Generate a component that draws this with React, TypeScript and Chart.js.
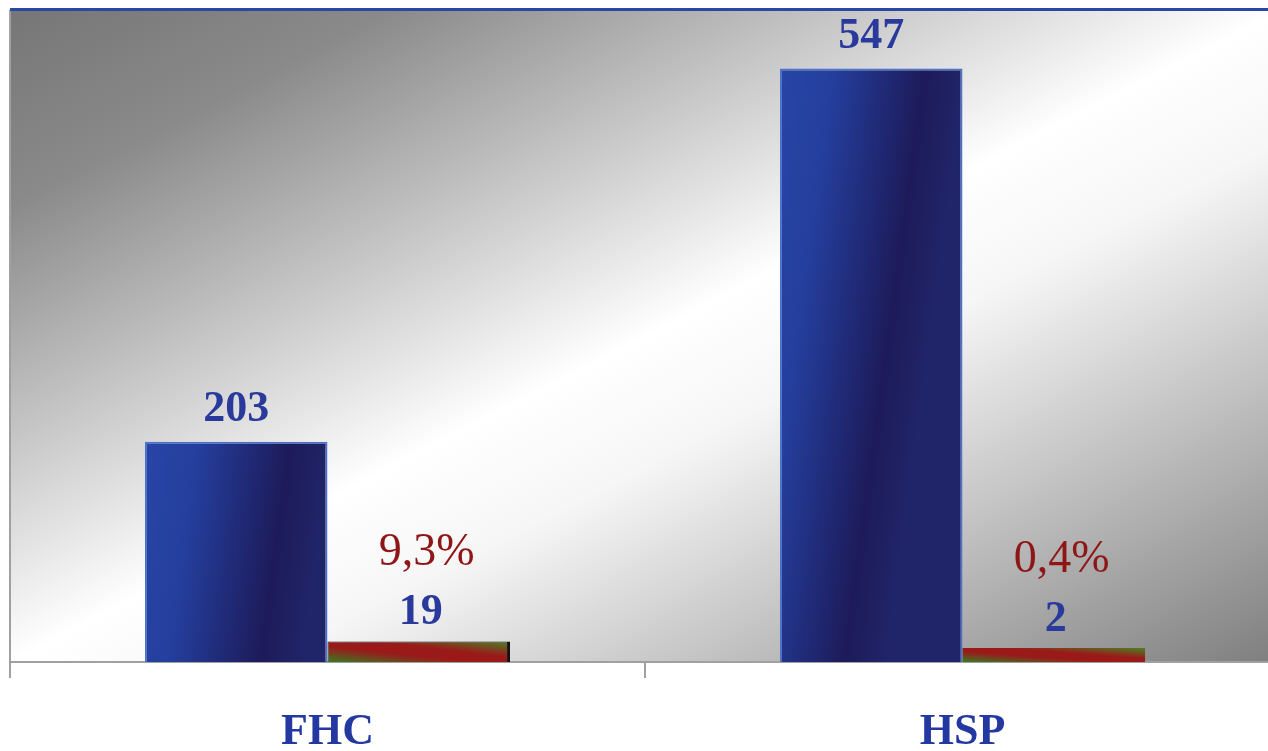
import React, { useEffect, useRef } from 'react';
import { Chart, registerables } from 'chart.js';

Chart.register(...registerables);

const categories = ['FHC', 'HSP'];
const totalValues = [203, 547];
const subsetValues = [19, 2];
const subsetPercentLabels = ['9,3%', '0,4%'];
const yMax = 600;

const SERIF = "'Liberation Serif', 'Times New Roman', serif";

const backgroundPlugin = {
  id: 'bgGradient',
  beforeDraw(chart: any) {
    const { ctx, chartArea } = chart;
    const { left, top, right, bottom } = chartArea;
    ctx.save();
    ctx.fillStyle = '#ffffff';
    ctx.fillRect(0, 0, chart.width, chart.height);
    ctx.translate(left, top);
    ctx.scale(right - left, bottom - top);
    const g = ctx.createLinearGradient(0, 0, 1, 1);
    g.addColorStop(0, '#767676');
    g.addColorStop(0.15, '#8a8a8a');
    g.addColorStop(0.5, '#ffffff');
    g.addColorStop(0.6, '#f6f6f6');
    g.addColorStop(1, '#7e7e7e');
    ctx.fillStyle = g;
    ctx.fillRect(0, 0, 1, 1);
    ctx.restore();
  },
  afterDraw(chart: any) {
    const { ctx, chartArea } = chart;
    ctx.save();
    ctx.fillStyle = '#2c46a6';
    ctx.fillRect(chartArea.left, chartArea.top - 3, chartArea.right - chartArea.left, 3);
    ctx.restore();
  },
};

const barGradientPlugin = {
  id: 'barGradient',
  beforeDatasetsDraw(chart: any) {
    const ctx = chart.ctx;
    chart.data.datasets.forEach((ds: any, di: number) => {
      const meta = chart.getDatasetMeta(di);
      meta.data.forEach((el: any) => {
        const { x, y, base, width } = el.getProps(['x', 'y', 'base', 'width'], true);
        const left = x - width / 2;
        const right = x + width / 2;
        const top = Math.min(y, base);
        const bottom = Math.max(y, base);
        const w = right - left;
        const h = bottom - top;
        let g: CanvasGradient;
        if (di === 0) {
          g = ctx.createLinearGradient(left, top, right, top + 25);
          g.addColorStop(0, '#2846a6');
          g.addColorStop(0.3, '#243e9c');
          g.addColorStop(0.78, '#1d1b5a');
          g.addColorStop(1, '#202468');
        } else {
          const s = (2 * w * h) / (w * w + h * h);
          g = ctx.createLinearGradient(left, bottom, left + h * s, bottom - w * s);
          g.addColorStop(0, '#3a7a22');
          g.addColorStop(0.38, '#9a1a1a');
          g.addColorStop(0.62, '#9a1a1a');
          g.addColorStop(1, '#4a8225');
        }
        el.options.backgroundColor = g;
      });
    });
  },
};

const labelsPlugin = {
  id: 'valueLabels',
  afterDatasetsDraw(chart: any) {
    const ctx = chart.ctx;
    ctx.save();
    ctx.textAlign = 'center';
    ctx.textBaseline = 'alphabetic';
    const m0 = chart.getDatasetMeta(0);
    m0.data.forEach((el: any, i: number) => {
      ctx.font = `bold 44px ${SERIF}`;
      ctx.fillStyle = '#2a3a9c';
      ctx.fillText(String(totalValues[i]), el.x, el.y - 21);
    });
    const m1 = chart.getDatasetMeta(1);
    m1.data.forEach((el: any, i: number) => {
      ctx.font = `bold 44px ${SERIF}`;
      ctx.fillStyle = '#2a3a9c';
      ctx.fillText(String(subsetValues[i]), el.x + 2, el.y - 17);
      ctx.font = `normal 46px ${SERIF}`;
      ctx.fillStyle = '#8e1616';
      ctx.fillText(subsetPercentLabels[i], el.x + 8, el.y - 76);
    });
    ctx.restore();
  },
};

export default function App() {
  const ref = useRef<HTMLCanvasElement | null>(null);

  useEffect(() => {
    document.body.style.margin = '0';
    const canvas = ref.current!;
    const chart = new Chart(canvas, {
      type: 'bar',
      data: {
        labels: categories,
        datasets: [
          {
            label: 'Total',
            data: totalValues,
            backgroundColor: () => '#22307a',
            borderColor: '#4d72c9',
            borderWidth: 2,
            borderSkipped: 'bottom',
          },
          {
            label: 'Subset',
            data: subsetValues,
            backgroundColor: () => '#9a1a1a',
            borderColor: '#111111',
            borderWidth: [{ top: 1, left: 1, right: 3, bottom: 0 }, 0] as any,
            borderSkipped: 'bottom',
            minBarLength: 14,
          },
        ],
      },
      options: {
        responsive: false,
        animation: false,
        devicePixelRatio: 1,
        layout: { padding: { left: 10, top: 11, right: 10, bottom: 0 } },
        datasets: { bar: { categoryPercentage: 0.575, barPercentage: 1 } },
        plugins: {
          legend: { display: false },
          tooltip: { enabled: false },
          title: { display: false },
        },
        scales: {
          x: {
            offset: true,
            grid: {
              display: true,
              drawOnChartArea: false,
              drawTicks: true,
              tickLength: 16,
              color: '#a0a0a0',
              lineWidth: 2,
              offset: true,
            },
            border: { display: true, color: '#a0a0a0', width: 2 },
            ticks: {
              color: '#2338a0',
              padding: 33,
              font: { family: SERIF, size: 44, weight: 'bold', lineHeight: 1 },
            },
          },
          y: {
            min: 0,
            max: yMax,
            grid: { display: false, drawTicks: false },
            border: { display: true, color: '#a0a0a0', width: 2 },
            ticks: { display: false },
          },
        },
      },
      plugins: [backgroundPlugin, barGradientPlugin, labelsPlugin],
    });
    return () => chart.destroy();
  }, []);

  return (
    <div style={{ position: 'absolute', left: 0, top: 0, width: 1268, height: 751, overflow: 'hidden', background: '#ffffff' }}>
      <canvas ref={ref} width={1290} height={788} style={{ display: 'block' }} />
    </div>
  );
}
